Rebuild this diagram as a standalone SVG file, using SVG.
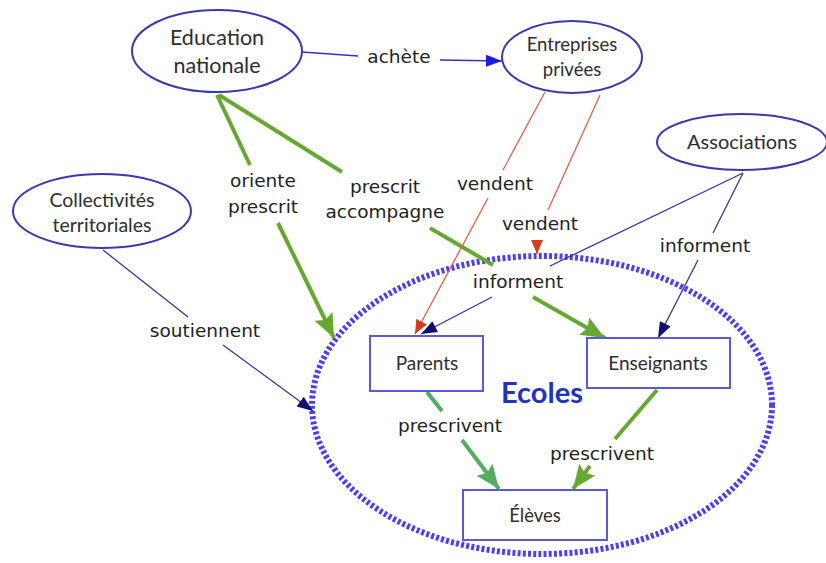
<svg xmlns="http://www.w3.org/2000/svg" width="826" height="563" viewBox="0 0 826 563">
<style>
.oval{fill:#fff;stroke:#3a3aaa;stroke-width:2}
.box{fill:#fff;stroke:#5a5ad8;stroke-width:2}
.nt{font-family:Lato,"Open Sans","DejaVu Sans",sans-serif;fill:#2e2e2e;text-anchor:middle}
.lb{font-family:"DejaVu Sans","Liberation Sans",sans-serif;font-size:18.5px;fill:#222;text-anchor:middle}
.g{stroke:#66a832;stroke-width:4;fill:none}
.g2{stroke:#55ab5e;stroke-width:4;fill:none}
.r{stroke:#e0604a;stroke-width:1.3;fill:none}
.n{stroke:#34349a;stroke-width:1.3;fill:none}
.b{stroke:#3030d0;stroke-width:1.5;fill:none}
</style>
<defs>
<marker id="ag" markerUnits="userSpaceOnUse" markerWidth="26" markerHeight="22" refX="24" refY="10" orient="auto"><path d="M0,0 L24,10 L0,20 L4,10 Z" fill="#66a832"/></marker>
<marker id="ag2" markerUnits="userSpaceOnUse" markerWidth="26" markerHeight="22" refX="24" refY="10" orient="auto"><path d="M0,0 L24,10 L0,20 L4,10 Z" fill="#55ab5e"/></marker>
<marker id="ar" markerUnits="userSpaceOnUse" markerWidth="16" markerHeight="14" refX="14" refY="6" orient="auto"><path d="M0,0 L14,6 L0,12 Z" fill="#d83a22"/></marker>
<marker id="an" markerUnits="userSpaceOnUse" markerWidth="18" markerHeight="14" refX="16" refY="6" orient="auto"><path d="M0,0 L16,6 L0,12 Z" fill="#101070"/></marker>
<marker id="ab" markerUnits="userSpaceOnUse" markerWidth="18" markerHeight="14" refX="16" refY="6" orient="auto"><path d="M0,0 L16,6 L0,12 Z" fill="#1a1ae0"/></marker>
</defs>
<rect width="826" height="563" fill="#fff"/>

<g id="ecoles">
<ellipse cx="542" cy="405" rx="230" ry="149" fill="none" stroke="#5040ec" stroke-width="6" stroke-dasharray="3 2.2"/>
<text x="542" y="403" font-family="Lato,'DejaVu Sans',sans-serif" font-weight="bold" font-size="29" fill="#2233bb" text-anchor="middle">Ecoles</text>
</g>

<g id="connectors">
<!-- achète -->
<path class="b" d="M302,52 L358,56"/>
<path class="b" d="M440,60 L502,61" marker-end="url(#ab)"/>
<text class="lb" x="399" y="63">achète</text>
<!-- oriente prescrit -->
<path class="g" d="M217,95 L250,165"/>
<path class="g" d="M278,223 L334,338" marker-end="url(#ag)"/>
<text class="lb" x="263" y="187">oriente</text>
<text class="lb" x="263" y="213">prescrit</text>
<!-- prescrit accompagne -->
<path class="g" d="M219,95 L342,172"/>
<path class="g" d="M430,228 L493,265"/>
<path class="g" d="M533,297 L605,338" marker-end="url(#ag)"/>
<text class="lb" x="385" y="193">prescrit</text>
<text class="lb" x="385" y="218">accompagne</text>
<!-- vendent 1 -->
<path class="r" d="M545,92 L503,170"/>
<path class="r" d="M488,198 L415,334" marker-end="url(#ar)"/>
<text class="lb" x="495" y="190">vendent</text>
<!-- vendent 2 -->
<path class="r" d="M600,95 L548,210"/>
<path class="r" d="M537,240 L537,254" marker-end="url(#ar)"/>
<text class="lb" x="540" y="230">vendent</text>
<!-- informent (Parents) -->
<path class="n" d="M743,173 L550,266"/>
<path class="n" d="M492,297 L421,334" marker-end="url(#an)"/>
<text class="lb" x="518" y="288">informent</text>
<!-- informent (Enseignants) -->
<path class="n" d="M743,173 L713,233"/>
<path class="n" d="M698,260 L658,338" marker-end="url(#an)"/>
<text class="lb" x="705" y="252">informent</text>
<!-- soutiennent -->
<path class="n" d="M103,250 L188,317"/>
<path class="n" d="M223,345 L313,411" marker-end="url(#an)"/>
<text class="lb" x="205" y="337">soutiennent</text>
<!-- prescrivent Parents -->
<path class="g2" d="M427,392 L442,411"/>
<path class="g2" d="M462,440 L499,489" marker-end="url(#ag2)"/>
<text class="lb" x="450" y="432">prescrivent</text>
<!-- prescrivent Enseignants -->
<path class="g" d="M657,390 L615,439"/>
<path class="g" d="M590,466 L573,489" marker-end="url(#ag)"/>
<text class="lb" x="602" y="460">prescrivent</text>
</g>

<g id="education-nationale">
<ellipse class="oval" cx="217" cy="51" rx="85" ry="41"/>
<text class="nt" x="217" y="45" font-size="21.5">Education</text>
<text class="nt" x="217" y="73" font-size="21.5">nationale</text>
</g>
<g id="entreprises-privees">
<ellipse class="oval" cx="572" cy="57" rx="70" ry="36"/>
<text class="nt" x="572" y="51" font-size="18.5">Entreprises</text>
<text class="nt" x="572" y="76" font-size="18.5">privées</text>
</g>
<g id="associations">
<ellipse class="oval" cx="742" cy="142" rx="85" ry="28"/>
<text class="nt" x="742" y="149" font-size="20">Associations</text>
</g>
<g id="collectivites-territoriales">
<ellipse class="oval" cx="102" cy="211" rx="89" ry="37"/>
<text class="nt" x="102" y="207" font-size="19.5">Collectivités</text>
<text class="nt" x="102" y="232" font-size="19.5">territoriales</text>
</g>
<g id="parents">
<rect class="box" x="370" y="336" width="113" height="55"/>
<text class="nt" x="427" y="370" font-size="19">Parents</text>
</g>
<g id="enseignants">
<rect class="box" x="587" y="338" width="143" height="50"/>
<text class="nt" x="658" y="370" font-size="19">Enseignants</text>
</g>
<g id="eleves">
<rect class="box" x="463" y="490" width="144" height="50"/>
<text class="nt" x="535" y="522" font-size="18.5">Élèves</text>
</g>
</svg>
